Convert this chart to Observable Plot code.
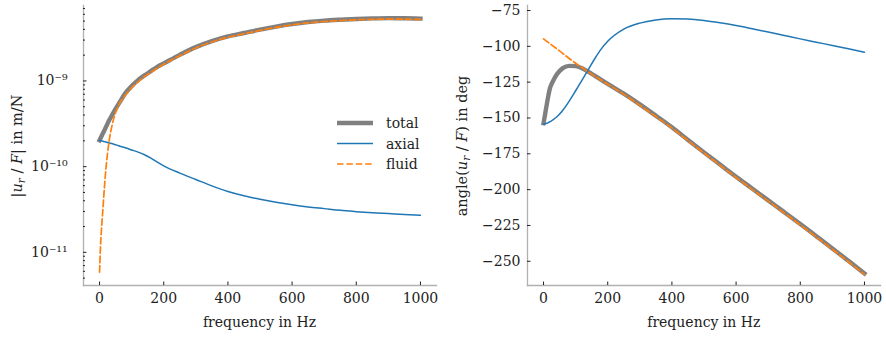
<!DOCTYPE html>
<html><head><meta charset="utf-8">
<script src="https://cdn.jsdelivr.net/npm/d3@7"></script>
<script src="https://cdn.jsdelivr.net/npm/@observablehq/plot@0.6"></script>
<style>
body{margin:0;background:#fff;}
#wrap{display:flex;width:886px;height:337px;}
svg{font-family:"DejaVu Serif",serif;}
</style></head><body><div id="wrap"></div>
<script>
// frequency grid (Hz)
const freq = [0,3,6,10,15,20,25,30,40,50,60,80,100,120,140,160,180,200,250,300,350,400,450,500,550,600,650,700,750,800,850,900,950,1000];

// |u_r/F| in m/N
const totalMag = [2.03e-10,2.14e-10,2.26e-10,2.43e-10,2.65e-10,2.90e-10,3.18e-10,3.47e-10,4.07e-10,4.73e-10,5.43e-10,7.16e-10,8.71e-10,1.023e-9,1.161e-9,1.303e-9,1.462e-9,1.603e-9,2.018e-9,2.483e-9,2.917e-9,3.311e-9,3.631e-9,3.981e-9,4.315e-9,4.624e-9,4.875e-9,5.058e-9,5.188e-9,5.297e-9,5.370e-9,5.408e-9,5.395e-9,5.346e-9];
const axialMag = [2.03e-10,2.014e-10,2.000e-10,1.982e-10,1.959e-10,1.936e-10,1.914e-10,1.892e-10,1.849e-10,1.799e-10,1.750e-10,1.660e-10,1.567e-10,1.479e-10,1.375e-10,1.255e-10,1.130e-10,1.023e-10,8.414e-11,7.079e-11,5.957e-11,5.129e-11,4.571e-11,4.169e-11,3.846e-11,3.589e-11,3.388e-11,3.236e-11,3.090e-11,2.985e-11,2.897e-11,2.831e-11,2.767e-11,2.710e-11];
const fluidMag = [5.85e-12,1.175e-11,1.862e-11,3.02e-11,5.62e-11,9.55e-11,1.445e-10,1.995e-10,3.162e-10,4.266e-10,5.248e-10,6.761e-10,8.318e-10,9.772e-10,1.122e-9,1.259e-9,1.413e-9,1.567e-9,1.972e-9,2.427e-9,2.851e-9,3.236e-9,3.548e-9,3.890e-9,4.217e-9,4.519e-9,4.764e-9,4.943e-9,5.070e-9,5.176e-9,5.248e-9,5.284e-9,5.272e-9,5.224e-9];

// angle(u_r/F) in deg
const totalPhase = [-153.7,-149.8,-145.8,-140.6,-134.4,-129.2,-126.3,-124,-120,-117.2,-115.2,-113.6,-113.8,-115.3,-117.8,-120.6,-123.4,-126.2,-133,-140.5,-148.4,-156.5,-165.3,-174,-182.5,-191,-199.2,-207.5,-215.7,-224,-232.5,-241,-249.7,-258.5];
const axialPhase = [-154.2,-154.1,-154,-153.7,-153.2,-152.6,-152,-151.2,-149.5,-147.3,-144.6,-138.2,-131,-123.5,-116,-108.5,-101.8,-96.5,-88,-83.8,-81.6,-80.8,-81,-82,-83.6,-85.5,-87.7,-90,-92.4,-94.8,-97.1,-99.4,-101.7,-104.1];
const fluidPhase = [-94.8,-95.3,-95.8,-96.5,-97.3,-98.2,-99,-99.9,-101.5,-103.2,-105,-108.5,-111.8,-114.8,-118,-120.9,-123.7,-126.5,-133.5,-141.1,-149,-157.1,-165.8,-174.5,-183,-191.5,-199.8,-208,-216.3,-224.6,-233.1,-241.6,-250.3,-259.1];

// ticks
const xTicks = [0,200,400,600,800,1000];
const magTicks = [1e-11,1e-10,1e-9];
const magTickLabels = ["10\u207B\u00B9\u00B9","10\u207B\u00B9\u2070","10\u207B\u2079"];
const magMinorDecades = [1e-12,1e-11,1e-10,1e-9];
const magMinorMult = [2,3,4,5,6,7,8,9];
const phaseTicks = [-75,-100,-125,-150,-175,-200,-225,-250];
const seriesNames = ["total","axial","fluid"];

const styles = {
  total: {stroke:"#808080", strokeWidth:4.4, strokeLinecap:"square", strokeLinejoin:"round"},
  axial: {stroke:"#1f77b4", strokeWidth:1.5, strokeLinejoin:"round"},
  fluid: {stroke:"#ff7f0e", strokeWidth:1.7, strokeDasharray:"6.5,2.9", strokeLinejoin:"round"}
};
const magSeries = {total: totalMag, axial: axialMag, fluid: fluidMag};
const phaseSeries = {total: totalPhase, axial: axialPhase, fluid: fluidPhase};

const xDomain = [-50, 1050];
const magDomain = [4.1e-12, 7.6e-9];
const phaseDomain = [-266.9, -71.5];
const magLabelMap = new Map(magTicks.map((t,i)=>[t, magTickLabels[i]]));
const magMinor = magMinorDecades.flatMap(d => magMinorMult.map(m => m*d)).filter(v => v >= magDomain[0] && v <= magDomain[1]);

const minus = d => d < 0 ? "\u2212" + Math.abs(d) : String(d);
const spine = {stroke:"#b0b0b0", strokeWidth:1.3};
const W = 443, H = 337;

function lineMarks(series) {
  return seriesNames.map(n => Plot.line(freq.map((f,i)=>({f, v: series[n][i]})), {x:"f", y:"v", curve:"monotone-x", ...styles[n]}));
}

const left = Plot.plot({
  width: W, height: H, marginLeft: 83, marginRight: 7, marginTop: 5, marginBottom: 52,
  style: {fontFamily: "DejaVu Serif, serif", fontSize: "14px", color: "#222", background: "white", overflow: "visible"},
  x: {domain: xDomain},
  y: {type: "log", domain: magDomain},
  marks: [
    Plot.frame({anchor:"left", ...spine}),
    Plot.frame({anchor:"bottom", ...spine}),
    Plot.axisX({ticks: xTicks, tickSize: 0, tickPadding: 8, tickFormat: d => String(d), label: null}),
    Plot.axisX({ticks: xTicks, tickSize: -3.5, tickFormat: () => "", label: null}),
    Plot.axisY({ticks: magTicks, tickSize: 0, tickPadding: 16, tickFormat: d => magLabelMap.get(d), label: null}),
    Plot.axisY({ticks: magTicks, tickSize: -3.5, tickFormat: () => "", label: null}),
    Plot.axisY({ticks: magMinor, tickSize: -2, tickFormat: () => "", label: null}),
    ...lineMarks(magSeries)
  ]
});

const right = Plot.plot({
  width: W, height: H, marginLeft: 84, marginRight: 6, marginTop: 5, marginBottom: 52,
  style: {fontFamily: "DejaVu Serif, serif", fontSize: "14px", color: "#222", background: "white", overflow: "visible"},
  x: {domain: xDomain},
  y: {domain: phaseDomain},
  marks: [
    Plot.frame({anchor:"left", ...spine}),
    Plot.frame({anchor:"bottom", ...spine}),
    Plot.axisX({ticks: xTicks, tickSize: 0, tickPadding: 8, tickFormat: d => String(d), label: null}),
    Plot.axisX({ticks: xTicks, tickSize: -3.5, tickFormat: () => "", label: null}),
    Plot.axisY({ticks: phaseTicks, tickSize: 0, tickPadding: 7, tickFormat: minus, label: null}),
    Plot.axisY({ticks: phaseTicks, tickSize: -3.5, tickFormat: () => "", label: null}),
    ...lineMarks(phaseSeries)
  ]
});

function addXLabel(svg, cx) {
  d3.select(svg).append("text").attr("x", cx).attr("y", 326.5)
    .attr("text-anchor","middle").attr("fill","#222").attr("font-size",14)
    .text("frequency in Hz");
}
function addYLabel(svg, bx, parts) {
  const t = d3.select(svg).append("text")
    .attr("transform", `translate(${bx},146) rotate(-90)`)
    .attr("text-anchor","middle").attr("fill","#222").attr("font-size",14.5);
  parts.forEach(p => {
    const s = t.append("tspan").text(p.t);
    if (p.i) s.attr("font-style","italic");
    if (p.sub) s.attr("font-size",10.5).attr("dy",3);
    if (p.up) s.attr("dy",-3);
  });
}
addXLabel(left, 259.5);
addXLabel(right, 260.8);
addYLabel(left, 21.5, [{t:"|"},{t:"u",i:true},{t:"r",i:true,sub:true},{t:" / ",up:true},{t:"F",i:true},{t:"| in m/N"}]);
addYLabel(right, 23.5, [{t:"angle("},{t:"u",i:true},{t:"r",i:true,sub:true},{t:" / ",up:true},{t:"F",i:true},{t:") in deg"}]);

// legend
const lg = d3.select(left).append("g").attr("text-anchor","start");
seriesNames.forEach((n,k) => {
  const y = 123 + k*20.5;
  const st = styles[n];
  const ln = lg.append("line").attr("x1",337).attr("x2",373).attr("y1",y).attr("y2",y)
    .attr("stroke", st.stroke).attr("stroke-width", st.strokeWidth);
  if (st.strokeDasharray) ln.attr("stroke-dasharray", st.strokeDasharray);
  lg.append("text").attr("x",386).attr("y",y+5).attr("text-anchor","start").attr("fill","#222").attr("font-size",14).text(n);
});

document.getElementById("wrap").append(left, right);
</script>
</body></html>
